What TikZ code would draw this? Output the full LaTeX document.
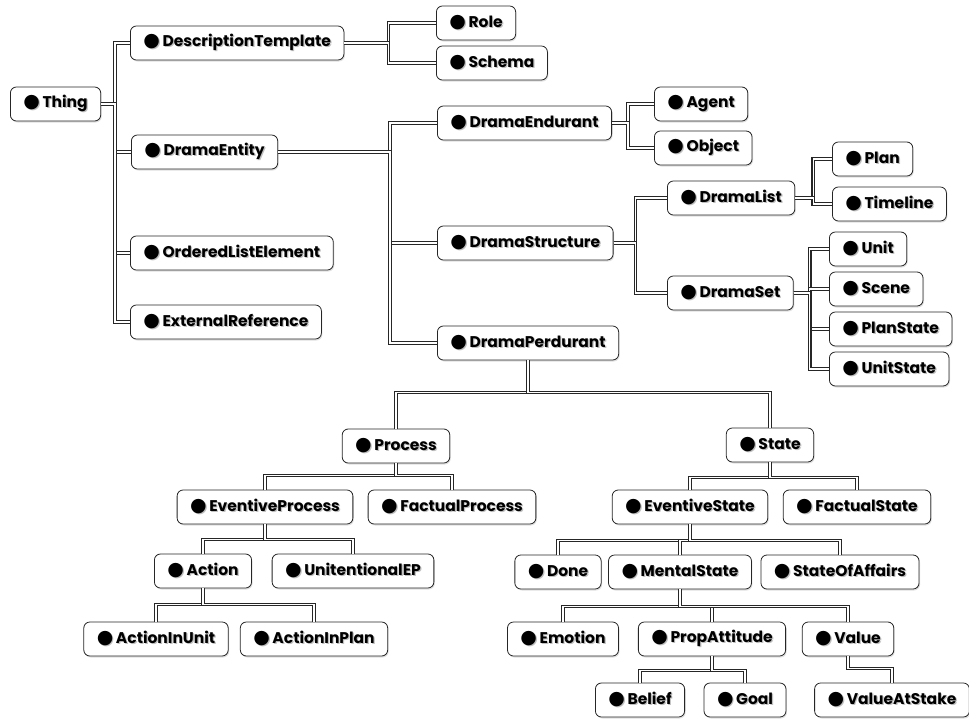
\documentclass[tikz,border=0pt]{standalone}
\usepackage{fontspec}
\setmainfont{Poppins}
\newfontfamily\symfont{DejaVu Sans}
\usetikzlibrary{shadows}
\tikzset{
  cls/.style={draw=black!85, line width=0.8pt, rounded corners=6pt, fill=white,
    inner xsep=13pt, minimum height=34pt,
    font=\fontsize{15.5}{18}\selectfont\bfseries,
    drop shadow={opacity=0.25, shadow xshift=1pt, shadow yshift=-1.5pt}},
  link/.style={draw=black!85, line width=3.6pt, postaction={draw=white, line width=1.4pt}},
}
% bullet, label and a soft grey copy underneath
\newcommand{\blt}[1]{\rlap{\color{black!25}\raisebox{-1.6pt}{\hspace{1.2pt}%
  {\symfont\fontsize{19}{18}\selectfont ●}\,#1}}%
  {\symfont\fontsize{19}{18}\selectfont ●}\,#1}

\begin{document}
\begin{tikzpicture}[x=1pt, y=-1pt]
  \useasboundingbox (0,0) rectangle (969,718);
  % horizontal part
  \foreach \n/\x/\y/\t in {thing/10/104/Thing, desc/130/43/DescriptionTemplate,
      role/436/23/Role, schema/436/63/Schema, entity/131/152/DramaEntity,
      ordered/130/253/OrderedListElement, external/130/322/ExternalReference,
      endurant/437/123/DramaEndurant, agent/654/104/Agent, object/654/148/Object,
      structure/437/243/DramaStructure, dlist/667/198/DramaList,
      plan/832/159/Plan, timeline/832/204/Timeline, dset/667/293/DramaSet,
      unit/829/249/Unit, scene/829/289/Scene, planstate/829/329/PlanState,
      unitstate/829/369/UnitState, perdurant/437/343/DramaPerdurant}
    \node[cls, anchor=west] (\n) at (\x,\y) {\blt{\t}};
  % vertical part
  \foreach \n/\x/\y/\t in {process/396/446/Process, state/770/445/State,
      evproc/265/507/EventiveProcess, factproc/452/507/FactualProcess,
      evstate/690/507/EventiveState, factstate/857/507/FactualState,
      action/203/571/Action, unintep/353/571/UnitentionalEP,
      aiu/156/639/ActionInUnit, aip/314/639/ActionInPlan,
      done/558/572/Done, mental/680/572/MentalState, soa/840/572/StateOfAffairs,
      emotion/563/639/Emotion, propatt/712/639/PropAttitude, value/848/639/Value,
      belief/640/700/Belief, goal/745/700/Goal, vas/892/700/ValueAtStake}
    \node[cls] (\n) at (\x,\y) {\blt{\t}};

  \foreach \pa/\ch/\dd in {thing/desc/14, thing/entity/14, thing/ordered/14,
      thing/external/14, desc/role/44, desc/schema/44,
      entity/endurant/112, entity/structure/112, entity/perdurant/112,
      endurant/agent/16, endurant/object/16, structure/dlist/22, structure/dset/22,
      dlist/plan/18, dlist/timeline/18, dset/unit/16, dset/scene/16,
      dset/planstate/16, dset/unitstate/16}
    \draw[link] (\pa.east) -- ++(\dd,0) |- (\ch.west);
  \foreach \pa/\ch/\dd in {perdurant/process/32, perdurant/state/32,
      process/evproc/12, process/factproc/12, state/evstate/15, state/factstate/15,
      evproc/action/15, evproc/unintep/15, action/aiu/16, action/aip/16,
      evstate/done/16, evstate/mental/16, evstate/soa/16,
      mental/emotion/17, mental/propatt/17, mental/value/17,
      propatt/belief/14, propatt/goal/14, value/vas/12}
    \draw[link] (\pa.south) -- ++(0,\dd) -| (\ch.north);
\end{tikzpicture}
\end{document}
